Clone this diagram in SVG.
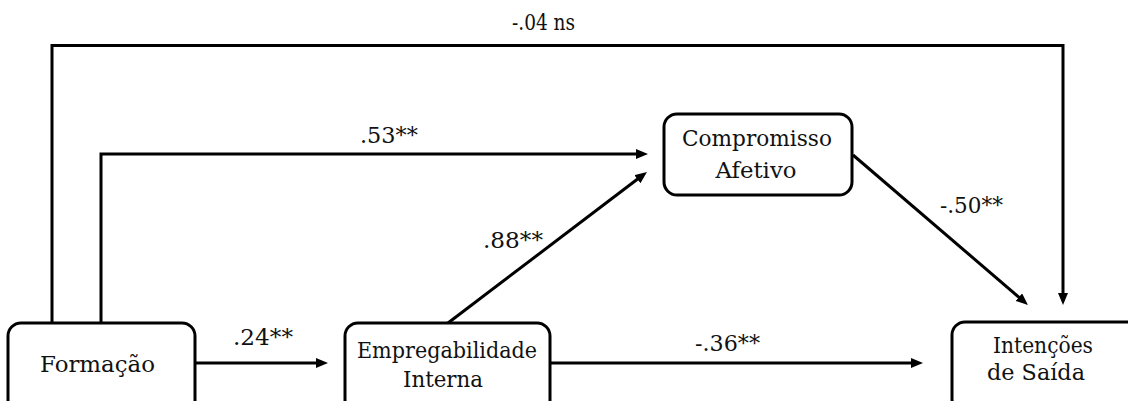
<svg xmlns="http://www.w3.org/2000/svg" width="1128" height="401" viewBox="0 0 1128 401">
  <style>
    .box { fill: #ffffff; stroke: #000000; stroke-width: 3; }
    .edge { fill: none; stroke: #000000; stroke-width: 3; stroke-linejoin: miter; }
    .lbl { font-family: "DejaVu Serif", "Liberation Serif", serif; font-size: 22px; fill: #111111; }
    .c { text-anchor: middle; }
  </style>
  <defs>
    <marker id="arrow" markerUnits="userSpaceOnUse" markerWidth="14" markerHeight="12" refX="4" refY="5" orient="auto">
      <path d="M0,0 L12,5 L0,10 z" fill="#000000"/>
    </marker>
  </defs>
  <rect width="1128" height="401" fill="#ffffff"/>

  <!-- connectors -->
  <g id="connectors">
    <path class="edge" d="M52,323 L52,45.5 L1063,45.5 L1063,297" marker-end="url(#arrow)"/>
    <path class="edge" d="M101,323 L101,154 L640,154" marker-end="url(#arrow)"/>
    <path class="edge" d="M195,363 L320,363" marker-end="url(#arrow)"/>
    <path class="edge" d="M550,363 L915,363" marker-end="url(#arrow)"/>
    <path class="edge" d="M448,323 L640.6,176.8" marker-end="url(#arrow)"/>
    <path class="edge" d="M853,155 L1021.9,299.8" marker-end="url(#arrow)"/>

    <g class="lbl">
      <text x="512" y="30" textLength="63" lengthAdjust="spacingAndGlyphs">-.04 ns</text>
      <text x="360" y="143" textLength="58" lengthAdjust="spacingAndGlyphs">.53**</text>
      <text x="233" y="345" textLength="60" lengthAdjust="spacingAndGlyphs">.24**</text>
      <text x="483" y="248" textLength="60" lengthAdjust="spacingAndGlyphs">.88**</text>
      <text x="695" y="351" textLength="65" lengthAdjust="spacingAndGlyphs">-.36**</text>
      <text x="940" y="213" textLength="63" lengthAdjust="spacingAndGlyphs">-.50**</text>
    </g>
  </g>

  <!-- nodes -->
  <g id="formacao">
    <rect class="box" x="8" y="323" width="187" height="90" rx="13" ry="13"/>
    <text class="lbl c" x="97.5" y="372" textLength="115" lengthAdjust="spacingAndGlyphs">Formação</text>
  </g>
  <g id="empregabilidade">
    <rect class="box" x="345" y="323" width="205" height="90" rx="13" ry="13"/>
    <text class="lbl c" x="447" y="358" textLength="180" lengthAdjust="spacingAndGlyphs">Empregabilidade</text>
    <text class="lbl c" x="443" y="387" textLength="80" lengthAdjust="spacingAndGlyphs">Interna</text>
  </g>
  <g id="compromisso">
    <rect class="box" x="664" y="114" width="188" height="81" rx="13" ry="13"/>
    <text class="lbl c" x="757" y="146" textLength="150" lengthAdjust="spacingAndGlyphs">Compromisso</text>
    <text class="lbl c" x="756" y="178" textLength="81" lengthAdjust="spacingAndGlyphs">Afetivo</text>
  </g>
  <g id="intencoes">
    <rect class="box" x="952" y="322" width="200" height="90" rx="13" ry="13"/>
    <text class="lbl c" x="1043" y="353" textLength="100" lengthAdjust="spacingAndGlyphs">Intenções</text>
    <text class="lbl c" x="1036" y="380" textLength="98" lengthAdjust="spacingAndGlyphs">de Saída</text>
  </g>
</svg>
